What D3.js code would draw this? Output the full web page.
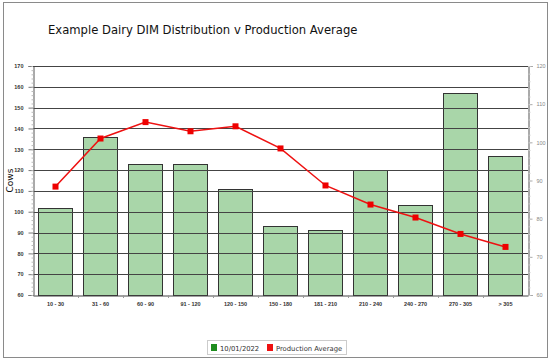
<!DOCTYPE html>
<html>
<head>
<meta charset="utf-8">
<script src="https://cdn.jsdelivr.net/npm/d3@7"></script>
<style>
  body { margin: 0; background: #fff; }
  svg { display: block; font-family: "DejaVu Sans", Verdana, sans-serif; }
</style>
</head>
<body>
<svg id="chart" width="551" height="362"></svg>
<script>
// chart data
var categories = ['10 - 30', '31 - 60', '60 - 90', '91 - 120', '120 - 150', '150 - 180', '181 - 210', '210 - 240', '240 - 270', '270 - 305', '> 305'];
var cows = [102, 136, 123, 123, 111, 93, 91, 120, 103, 157, 127];
var production = [88.4, 101, 105.3, 102.9, 104.2, 98.4, 88.7, 83.7, 80.3, 76, 72.6];
var leftTicks = [60, 70, 80, 90, 100, 110, 120, 130, 140, 150, 160, 170];
var rightTicks = [60, 70, 80, 90, 100, 110, 120];

var svg = d3.select('#chart'),
    margin = { left: 33, right: 23, top: 66, bottom: 67 },
    width = 551 - margin.left - margin.right,
    height = 362 - margin.top - margin.bottom;

// outer frame
svg.append('rect')
    .attr('x', 3.5).attr('y', 2.5)
    .attr('width', 544).attr('height', 355)
    .attr('fill', 'none')
    .attr('stroke', '#8a8a8a');

svg.append('text')
    .attr('x', 48)
    .attr('y', 34)
    .text('Example Dairy DIM Distribution v Production Average')
    .style('font-size', '11.6px')
    .attr('fill', '#111');

var g = svg.append('g').attr('transform', 'translate(' + margin.left + ',' + margin.top + ')');

var x = d3.scaleBand().domain(categories).range([0, width]).paddingInner(0.24).paddingOuter(0.12);
var yL = d3.scaleLinear().domain([60, 170]).range([height, 0]);
var yR = d3.scaleLinear().domain([60, 120]).range([height, 0]);

// bars
g.selectAll('.bar')
    .data(cows)
    .enter()
    .append('rect')
    .attr('class', 'bar')
    .attr('x', function(d, i) { return Math.round(x(categories[i])) + 0.5; })
    .attr('y', function(d) { return Math.round(yL(d)) + 0.5; })
    .attr('width', Math.round(x.bandwidth()))
    .attr('height', function(d) { return Math.round(height - yL(d)); })
    .attr('fill', '#a9d6a9')
    .attr('stroke', '#333')
    .attr('stroke-width', 1);

// gridlines on top of bars
g.selectAll('.grid')
    .data(leftTicks.slice(1))
    .enter()
    .append('line')
    .attr('x1', 0).attr('x2', width)
    .attr('y1', function(d) { return Math.round(yL(d)) + 0.5; })
    .attr('y2', function(d) { return Math.round(yL(d)) + 0.5; })
    .attr('stroke', '#444')
    .attr('stroke-width', 1);

// left axis
var leftAxis = g.append('g')
    .attr('transform', 'translate(0.5,0)')
    .call(d3.axisLeft(yL).tickValues(leftTicks).tickSize(5).tickPadding(5).tickFormat(d3.format('d')));
leftAxis.select('.domain').attr('stroke', '#555');
leftAxis.selectAll('.tick line').attr('stroke', '#777');
leftAxis.selectAll('text').style('font-size', '5.5px').style('font-weight', 'bold').attr('fill', '#333');

// minor ticks
g.append('g')
    .attr('transform', 'translate(0.5,0)')
    .call(d3.axisLeft(yL).ticks(55).tickSize(2).tickFormat(''))
    .call(function(s) { s.select('.domain').remove(); s.selectAll('line').attr('stroke', '#bbb'); });

// right axis
var rightAxis = g.append('g')
    .attr('transform', 'translate(' + (width + 0.5) + ',0)')
    .call(d3.axisRight(yR).tickValues(rightTicks).tickSize(4).tickPadding(4).tickFormat(d3.format('d')));
rightAxis.select('.domain').attr('stroke', '#555');
rightAxis.selectAll('.tick line').attr('stroke', '#aaa');
rightAxis.selectAll('text').style('font-size', '5.5px').attr('fill', '#888');

g.append('g')
    .attr('transform', 'translate(' + (width + 0.5) + ',0)')
    .call(d3.axisRight(yR).ticks(30).tickSize(2).tickFormat(''))
    .call(function(s) { s.select('.domain').remove(); s.selectAll('line').attr('stroke', '#ccc'); });

// top border of plot
g.append('line')
    .attr('x1', 0).attr('x2', width)
    .attr('y1', 0.5).attr('y2', 0.5)
    .attr('stroke', '#444');

// x axis
var xAxis = g.append('g')
    .attr('transform', 'translate(0,' + (height + 0.5) + ')')
    .call(d3.axisBottom(x).tickSize(0).tickPadding(7));
xAxis.select('.domain').attr('stroke', '#444');
xAxis.selectAll('text').style('font-size', '5.5px').style('font-weight', 'bold').attr('fill', '#333');

// category boundary ticks
var step = x.step();
g.selectAll('.xtick')
    .data(d3.range(1, categories.length))
    .enter()
    .append('line')
    .attr('x1', function(i) { return Math.round(x(categories[i]) - x.paddingInner() * step / 2) + 0.5; })
    .attr('x2', function(i) { return Math.round(x(categories[i]) - x.paddingInner() * step / 2) + 0.5; })
    .attr('y1', height).attr('y2', height + 3)
    .attr('stroke', '#999');

// y label
svg.append('text')
    .attr('transform', 'translate(13,' + (margin.top + height / 2) + ') rotate(-90)')
    .attr('text-anchor', 'middle')
    .text('Cows')
    .style('font-size', '9px')
    .attr('fill', '#111');

// production line
var line = d3.line()
    .x(function(d, i) { return x(categories[i]) + x.bandwidth() / 2; })
    .y(function(d) { return yR(d); });

g.append('path')
    .datum(production)
    .attr('d', line)
    .attr('fill', 'none')
    .attr('stroke', '#ee1111')
    .attr('stroke-width', 1.5);

g.selectAll('.pt')
    .data(production)
    .enter()
    .append('rect')
    .attr('x', function(d, i) { return x(categories[i]) + x.bandwidth() / 2 - 3; })
    .attr('y', function(d) { return yR(d) - 3; })
    .attr('width', 6)
    .attr('height', 6)
    .attr('fill', '#ee0000');

// legend
var legend = svg.append('g').attr('transform', 'translate(207,340)');
legend.append('rect')
    .attr('x', 0.5).attr('y', 0.5)
    .attr('width', 139).attr('height', 14)
    .attr('fill', '#fff')
    .attr('stroke', '#ccc');
legend.append('rect').attr('x', 4).attr('y', 4).attr('width', 6).attr('height', 7).attr('fill', '#1e8c1e');
legend.append('text').attr('x', 13).attr('y', 10.5).text('10/01/2022').style('font-size', '6.8px').attr('fill', '#333');
legend.append('rect').attr('x', 60).attr('y', 4).attr('width', 6).attr('height', 7).attr('fill', '#ee1111');
legend.append('text').attr('x', 69).attr('y', 10.5).text('Production Average').style('font-size', '6.8px').attr('fill', '#333');
</script>
</body>
</html>
